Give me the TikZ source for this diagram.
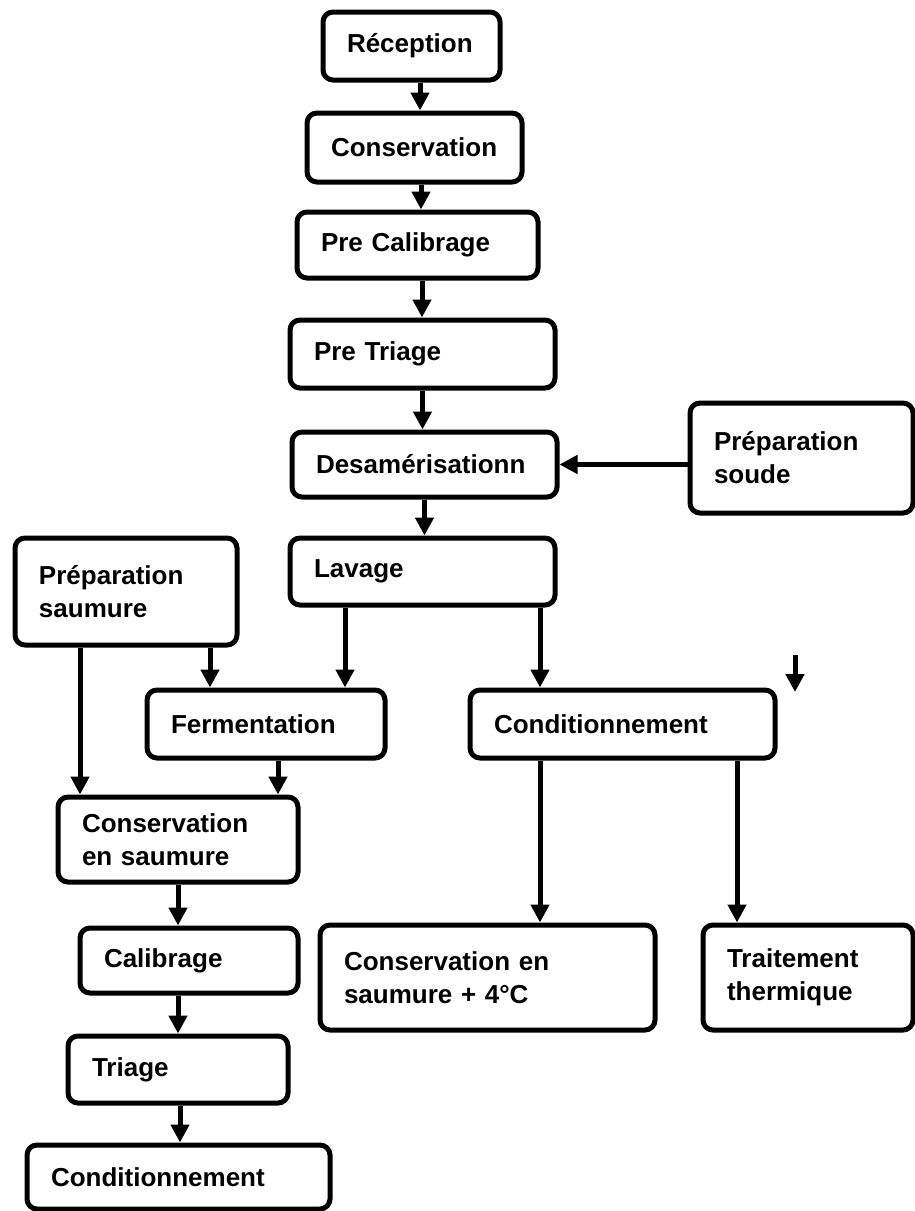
\documentclass[tikz,border=0pt]{standalone}
\usepackage{fontspec}
\setmainfont{Liberation Sans}
\usetikzlibrary{arrows.meta}
\begin{document}
\begin{tikzpicture}[x=0.5pt,y=-0.5pt,
    box/.style={draw, line width=2.5pt, rounded corners=5pt, align=left,
      inner xsep=12pt, font=\fontsize{13}{16.5}\selectfont\bfseries},
    flow/.style={line width=2.5pt, -{Triangle[length=9pt,width=9pt]}}]
      \useasboundingbox (0,0) rectangle (915,1211);
      \draw
        (411.5,46) node[box,text width=64.5pt,minimum height=34pt] (rec){Réception}
        (414.5,147.5) node[box,text width=83.5pt,minimum height=34.5pt] (cons){Conservation}
        (417.5,245) node[box,text width=96.5pt,minimum height=33pt] (precal){Pre Calibrage}
        (422.5,354) node[box,text width=108.5pt,minimum height=34pt] (pretri){Pre Triage}
        (424.5,464.5) node[box,text width=108.5pt,minimum height=32.5pt] (desam){Desamérisationn}
        (801.5,458) node[box,text width=87.5pt,minimum height=55pt] (soude){Préparation\\soude}
        (422.5,571.5) node[box,text width=108.5pt,minimum height=33.5pt] (lav){Lavage}
        (126,591.5) node[box,text width=87pt,minimum height=53.5pt] (saum){Préparation\\saumure}
        (266,724) node[box,text width=95pt,minimum height=34pt] (ferm){Fermentation}
        (622.5,724) node[box,text width=128.5pt,minimum height=34pt] (condr){Conditionnement}
        (178,839.5) node[box,text width=96pt,minimum height=42.5pt] (conssaum){Conservation\\en saumure}
        (189,960.5) node[box,text width=85pt,minimum height=32.5pt] (calib){Calibrage}
        (178,1069.5) node[box,text width=86pt,minimum height=33.5pt] (tri){Triage}
        (178.5,1177) node[box,text width=127.5pt,minimum height=32pt] (condb){Conditionnement}
        (487.5,977.5) node[box,text width=143.5pt,minimum height=52.5pt] (froid){Conservation en\\saumure + 4°C}
        (808,977.5) node[box,text width=81pt,minimum height=52.5pt] (trait){Traitement\\thermique};
      \coordinate (free1) at (795,655);
      \coordinate (free2) at (795,692);
      \begin{scope}[flow]
        \draw ([xshift=4.25pt]rec.south) to ([xshift=4.25pt]rec.south |- cons.north);
        \draw ([xshift=3.25pt]cons.south) to ([xshift=3.25pt]cons.south |- precal.north);
        \draw ([xshift=2.25pt]precal.south) to ([xshift=2.25pt]precal.south |- pretri.north);
        \draw (pretri.south) to (pretri.south |- desam.north);
        \draw (desam.south) to (desam.south |- lav.north);
        \draw (soude.west |- desam.east) to (desam.east);
        \draw ([xshift=-38.75pt]lav.south) to ([xshift=-38.75pt]lav.south |- ferm.north);
        \draw ([xshift=58.75pt]lav.south) to ([xshift=58.75pt]lav.south |- condr.north);
        \draw ([xshift=42pt]saum.south) to ([xshift=42pt]saum.south |- ferm.north);
        \draw ([xshift=-23pt]saum.south) to ([xshift=-23pt]saum.south |- conssaum.north);
        \draw ([xshift=6pt]ferm.south) to ([xshift=6pt]ferm.south |- conssaum.north);
        \draw (conssaum.south) to (conssaum.south |- calib.north);
        \draw ([xshift=-5.5pt]calib.south) to ([xshift=-5.5pt]calib.south |- tri.north);
        \draw ([xshift=1pt]tri.south) to ([xshift=1pt]tri.south |- condb.north);
        \draw ([xshift=-41.25pt]condr.south) to ([xshift=-41.25pt]condr.south |- froid.north);
        \draw ([xshift=57.25pt]condr.south) to ([xshift=57.25pt]condr.south |- trait.north);
        \draw (free1) to (free2);
      \end{scope}
    \end{tikzpicture}
\end{document}
